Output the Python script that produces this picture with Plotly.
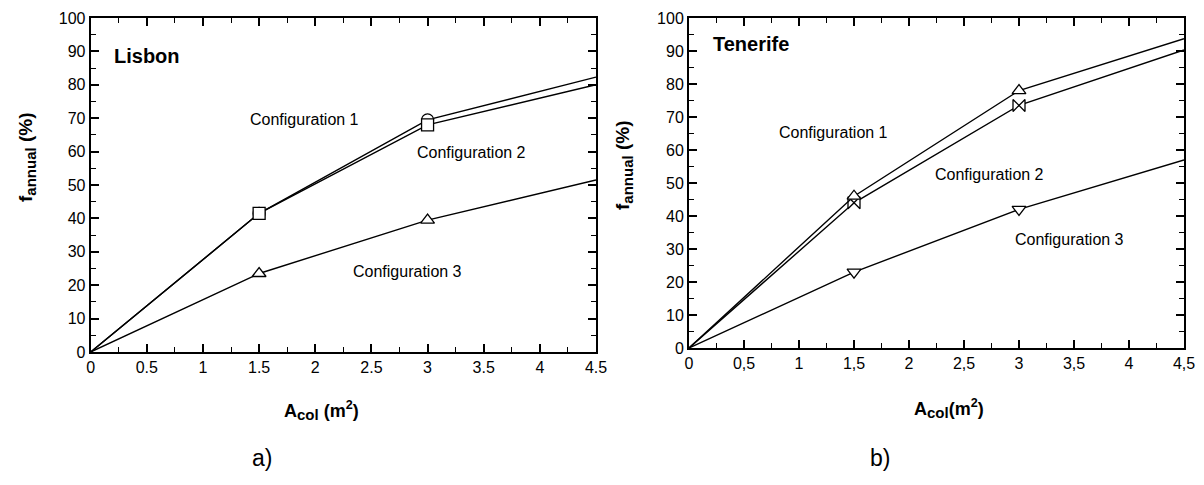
import plotly.graph_objects as go
from plotly.subplots import make_subplots

# collector area (m2)
area = [0, 1.5, 3, 4.5]

# Lisbon, f_annual (%)
lis_conf1 = [0, 41.5, 69.5, 82.3]
lis_conf2 = [0, 41.5, 68.0, 80.0]
lis_conf3 = [0, 23.5, 39.5, 51.5]

# Tenerife, f_annual (%)
ten_conf1 = [0, 46.0, 78.0, 93.7]
ten_conf2 = [0, 44.0, 73.5, 90.3]
ten_conf3 = [0, 23.0, 42.0, 57.0]

x_ticks = [0, 0.5, 1, 1.5, 2, 2.5, 3, 3.5, 4, 4.5]
x_labels_a = ["0", "0.5", "1", "1.5", "2", "2.5", "3", "3.5", "4", "4.5"]
x_labels_b = ["0", "0,5", "1", "1,5", "2", "2,5", "3", "3,5", "4", "4,5"]

FONT = "Liberation Sans, Arial, sans-serif"
msize = [0, 12, 12, 0]

# page body has an 8px margin, so the figure is a bit smaller than the window
W, H = 1188, 469
M = 5
PW, PH = W - 2 * M, H - 2 * M

fig = make_subplots(rows=1, cols=2)

def add_series(y, symbol, col):
    fig.add_trace(go.Scatter(
        x=area, y=y, mode="lines+markers",
        line=dict(color="black", width=1.4),
        marker=dict(symbol=symbol, size=msize, color="white", opacity=1,
                    line=dict(color="black", width=1.3)),
        showlegend=False,
    ), row=1, col=col)

add_series(lis_conf3, "triangle-up", 1)
add_series(lis_conf1, "circle", 1)
add_series(lis_conf2, "square", 1)

add_series(ten_conf3, "triangle-down", 2)
add_series(ten_conf2, "bowtie", 2)
add_series(ten_conf1, "triangle-up", 2)

# screen pixels -> paper fraction
def fx(sx):
    return (sx - 8 - M) / PW

def fy(sy):
    return 1 - (sy - 8 - M) / PH

x_domains = [[fx(90.7), fx(596)], [fx(689), fx(1184)]]
y_domains = [[fy(352), fy(18)], [fy(348), fy(18)]]
labels = [x_labels_a, x_labels_b]

for c in (1, 2):
    fig.update_xaxes(range=[0, 4.5], tickmode="array", tickvals=x_ticks, ticktext=labels[c - 1],
                     ticks="inside", ticklen=8, tickwidth=1.5, tickcolor="black",
                     showline=True, linecolor="black", linewidth=2, mirror="allticks",
                     showgrid=False, zeroline=False, automargin=False,
                     minor=dict(ticks="inside", ticklen=5, tickwidth=1.2,
                                tickvals=[0.25, 0.75, 1.25, 1.75, 2.25, 2.75, 3.25, 3.75, 4.25],
                                tickcolor="black"),
                     tickfont=dict(family=FONT, size=16, color="black"),
                     domain=x_domains[c - 1], row=1, col=c)
    fig.update_yaxes(range=[0, 100], dtick=10,
                     ticks="inside", ticklen=8, tickwidth=1.5, tickcolor="black",
                     showline=True, linecolor="black", linewidth=2, mirror="allticks",
                     showgrid=False, zeroline=False, automargin=False,
                     minor=dict(ticks="inside", ticklen=5, tickwidth=1.2, dtick=5, tickcolor="black"),
                     tickfont=dict(family=FONT, size=16, color="black"),
                     domain=y_domains[c - 1], row=1, col=c)

ann = []
def txt(x, y, s, xref, yref, size=16, bold=False, xanchor="center", angle=0):
    ann.append(dict(x=x, y=y, xref=xref, yref=yref, text=f"<b>{s}</b>" if bold else s,
                    showarrow=False, xanchor=xanchor, yanchor="middle", textangle=angle,
                    font=dict(family=FONT, size=size, color="black")))

# panel a
txt(0.19, 88.6, "Lisbon", "x", "y", size=20, bold=True, xanchor="left")
txt(1.9, 69.5, "Configuration 1", "x", "y")
txt(3.39, 59.6, "Configuration 2", "x", "y")
txt(2.82, 24, "Configuration 3", "x", "y")
# panel b
txt(0.2, 92.2, "Tenerife", "x2", "y2", size=20, bold=True, xanchor="left")
txt(1.31, 65.4, "Configuration 1", "x2", "y2")
txt(2.73, 52.7, "Configuration 2", "x2", "y2")
txt(3.46, 33, "Configuration 3", "x2", "y2")

# axis titles and panel labels (paper coords)
def px(sx, sy, s, **kw):
    txt(fx(sx), fy(sy), s, "paper", "paper", **kw)

sub = "<span style='font-size:15px'>{}</span>"
px(321, 410, "A<sub>" + sub.format("col") + "</sub> (m<sup>2</sup>)", size=18, bold=True)
px(949, 408, "A<sub>" + sub.format("col") + "</sub>(m<sup>2</sup>)", size=18, bold=True)
px(27, 157, "f<sub>" + sub.format("annual") + "</sub> (%)", size=19, bold=True, angle=-90)
px(624, 165, "f<sub>" + sub.format("annual") + "</sub> (%)", size=19, bold=True, angle=-90)
px(262, 458, "a)", size=23)
px(880, 458, "b)", size=23)

fig.update_layout(
    width=W, height=H,
    margin=dict(l=M, r=M, t=M, b=M),
    plot_bgcolor="white", paper_bgcolor="white",
    annotations=ann,
    font=dict(family=FONT),
)

fig.write_html("out.html")
